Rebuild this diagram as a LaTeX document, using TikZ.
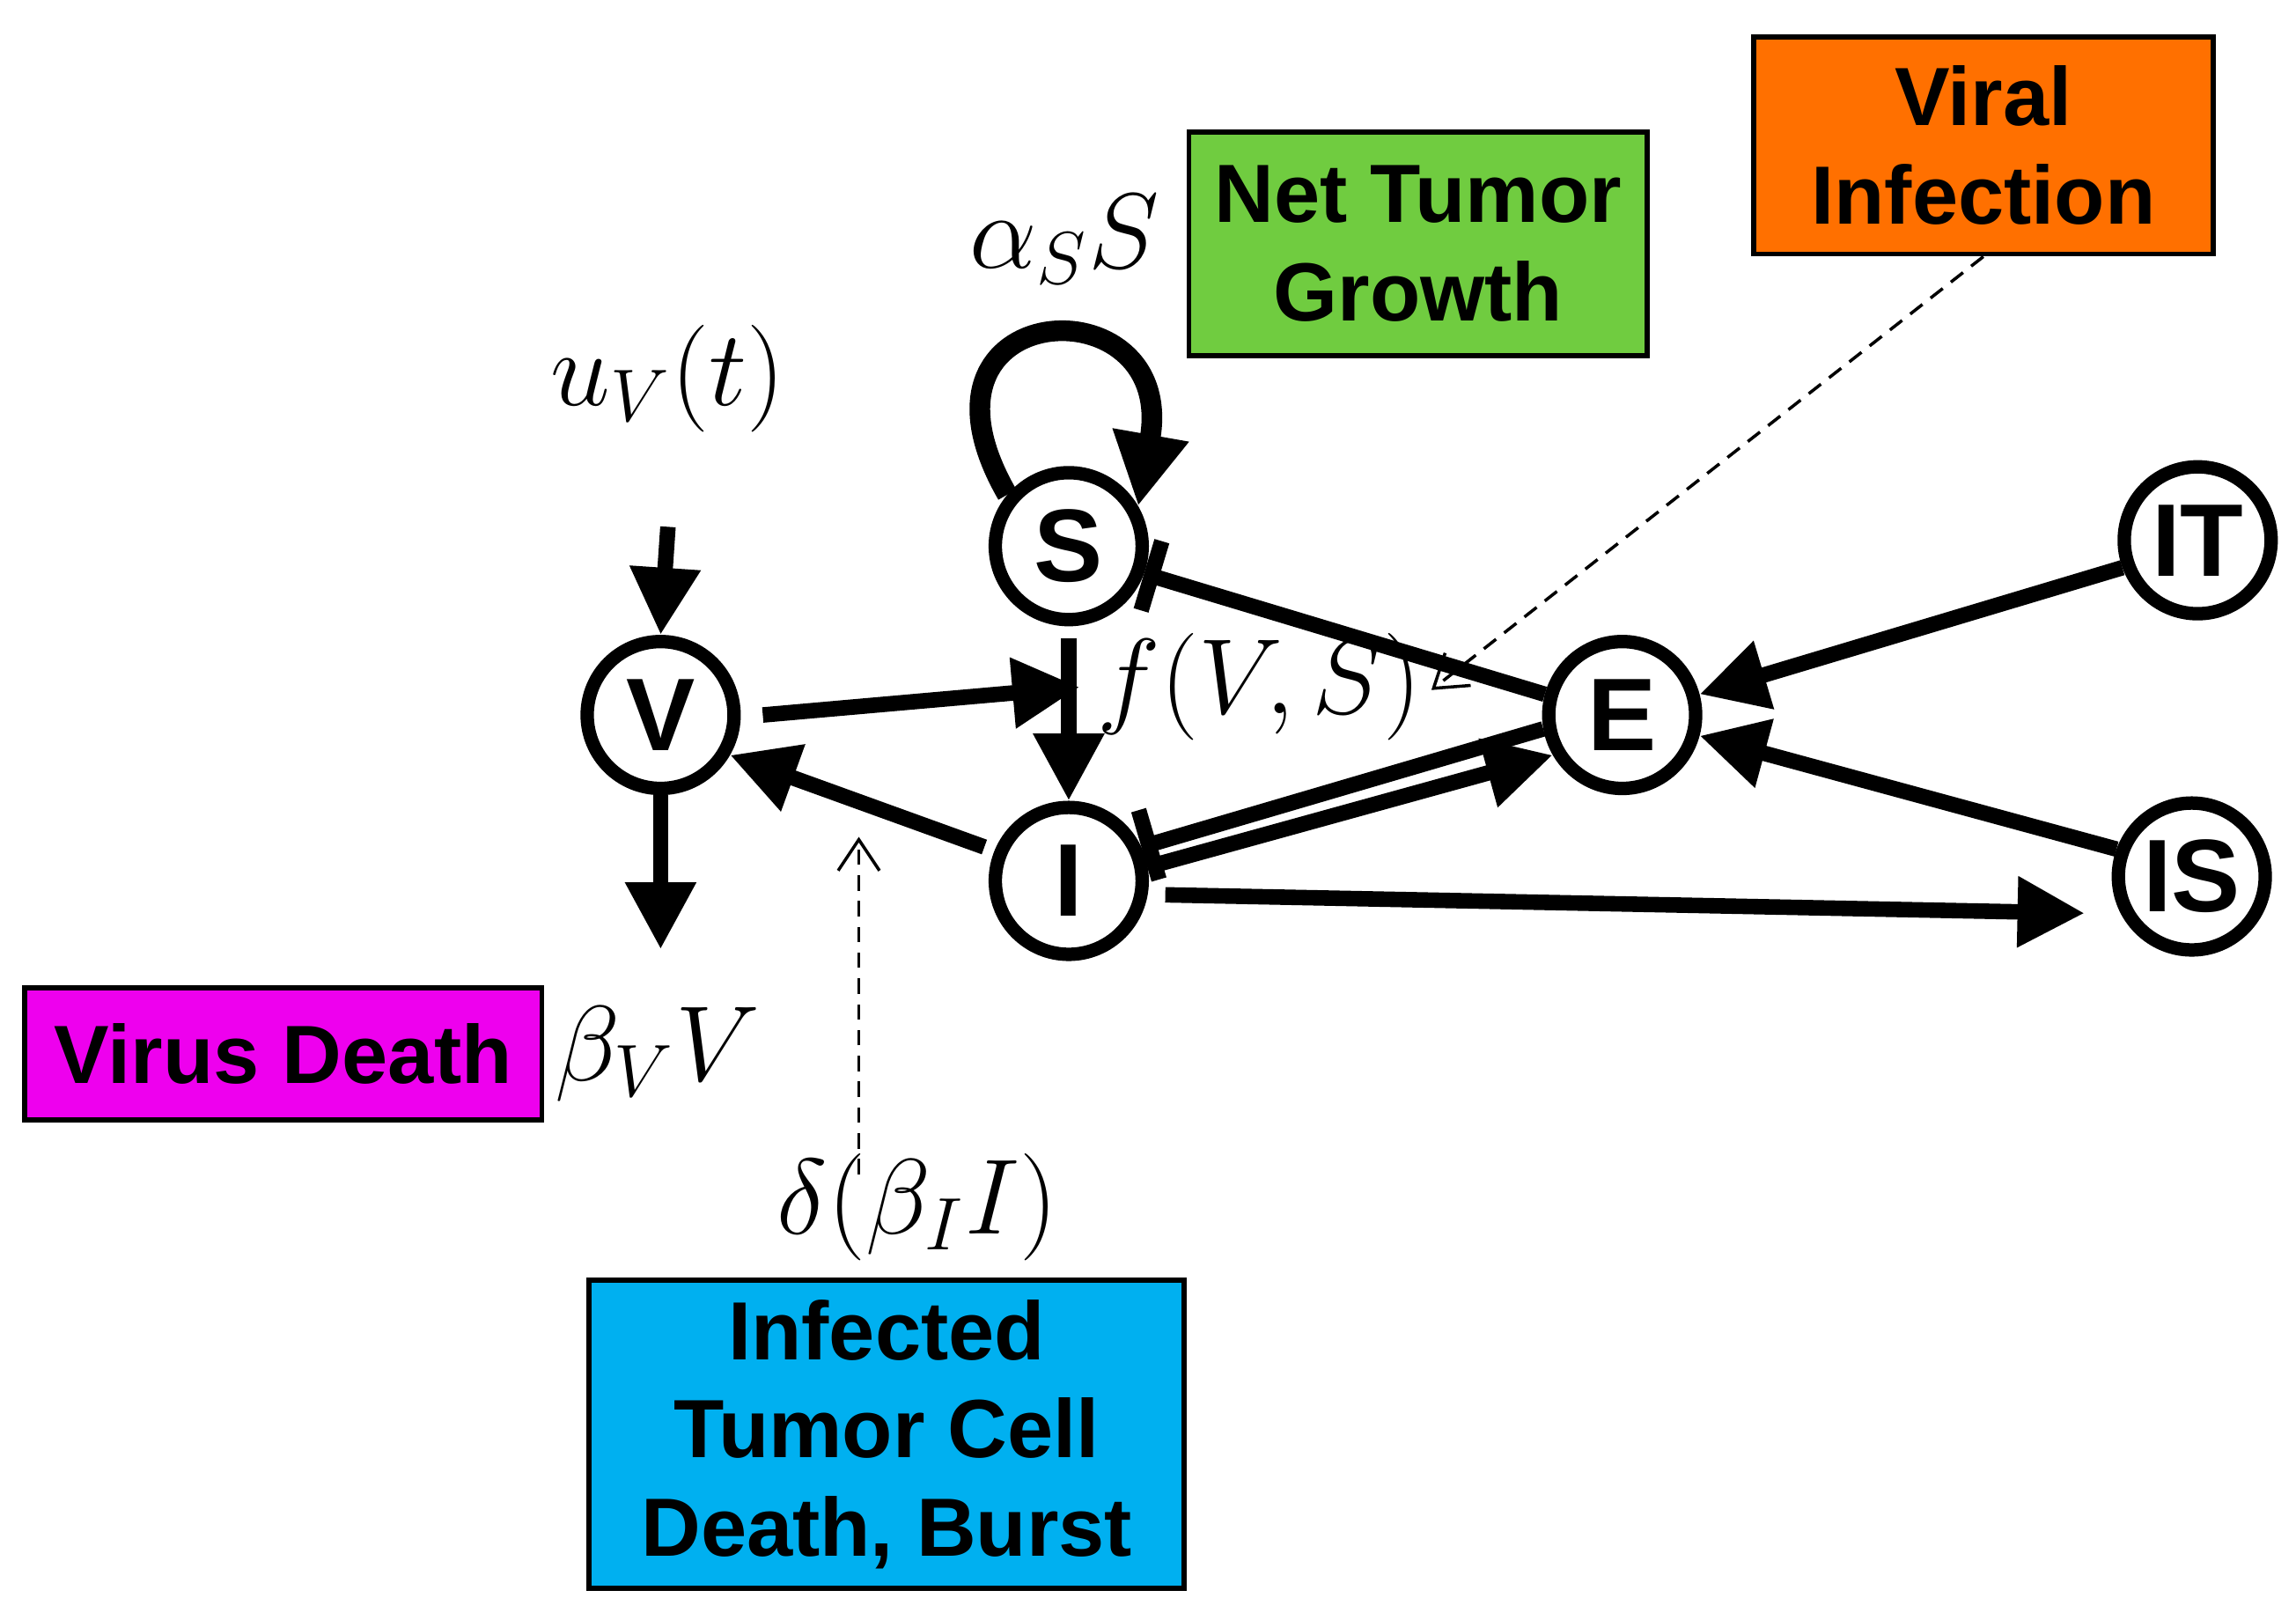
\documentclass[tikz,border=0pt]{standalone}
\usepackage{fontspec}
\setmainfont{Liberation Sans}
\usetikzlibrary{arrows.meta}
\begin{document}
\begin{tikzpicture}[x=0.01cm,y=-0.01cm,
 st/.style={circle,draw,line width=2.6pt,minimum size=1cm,inner sep=0pt,font=\fontsize{20}{20}\selectfont\bfseries},
 bx/.style={draw,line width=1pt,align=center,font=\fontsize{16}{19}\selectfont\bfseries},
 arr/.style={line width=3pt,-{Triangle[length=13pt,width=13pt]}},
 bar/.style={line width=3pt,-{Bar[width=14pt]}},
 dsh/.style={densely dashed,line width=0.6pt,-{Straight Barb[length=6pt,width=8pt]}},
 ml/.style={font=\fontsize{22}{22}\selectfont}]
\useasboundingbox (0,0) rectangle (1564,1103);
\node[st] (V) at (450,487) {V};
\node[st] (S) at (728,372) {S};
\node[st] (I) at (728,600) {I};
\node[st] (E) at (1105,487) {E};
\node[st] (IT) at (1497,368) {IT};
\node[st] (IS) at (1493,597) {IS};
\node[bx,fill=green!60!lime!80!black!90,minimum width=3.12cm,minimum height=1.52cm,fill={rgb,255:red,112;green,204;blue,64}] (G) at (966,166) {Net Tumor\\Growth};
\node[bx,fill={rgb,255:red,255;green,112;blue,0},minimum width=3.13cm,minimum height=1.48cm] (O) at (1351,99) {Viral\\Infection};
\node[bx,fill={rgb,255:red,238;green,0;blue,238},minimum width=3.52cm,minimum height=0.9cm] (M) at (193,718) {Virus Death};
\node[bx,fill={rgb,255:red,0;green,176;blue,240},minimum width=4.05cm,minimum height=2.1cm] (C) at (604,977) {Infected\\Tumor Cell\\Death, Burst};
\node[ml] (a) at (725,163) {$\alpha_S S$};
\node[ml] (u) at (455,258) {$u_V(t)$};
\node[ml] (f) at (858,468) {$f(V,S)$};
\node[ml] (b) at (448,718) {$\beta_V V$};
\node[ml] (d) at (625,822) {$\delta(\beta_I I)$};
\coordinate (d0) at (585,800);
\coordinate (d1) at (585,570);
\coordinate (o1) at (975,470);
\draw[arr] (u.south) ++(0,52) -- (V.north);
\draw[arr] (V.south) -- ++(0,105);
\draw[arr] (V.east) ++(15,0) -- (f.west);
\draw[arr] (S.south) ++(0,8) -- (I.north);
\draw[arr] (I.155) ++(-8,0) -- (V.-30);
\draw[bar] (E.165) -- (S.-20);
\draw[bar] (E.-170) -- (I.25);
\draw[arr] (I.10) -- (E.-150);
\draw[arr] (I.-10) ++(12,0) -- (1420,622);
\draw[arr] (IT.-160) -- (E.15);
\draw[arr] (IS.160) -- (E.-15);
\draw[line width=4pt,-{Triangle[length=14pt,width=14pt]}] (S.140) to[out=120,in=80,looseness=4.5] (S.30);
\draw[dsh] (O.south) -- (o1);
\draw[dsh] (d0) -- (d1);
\end{tikzpicture}
\end{document}
